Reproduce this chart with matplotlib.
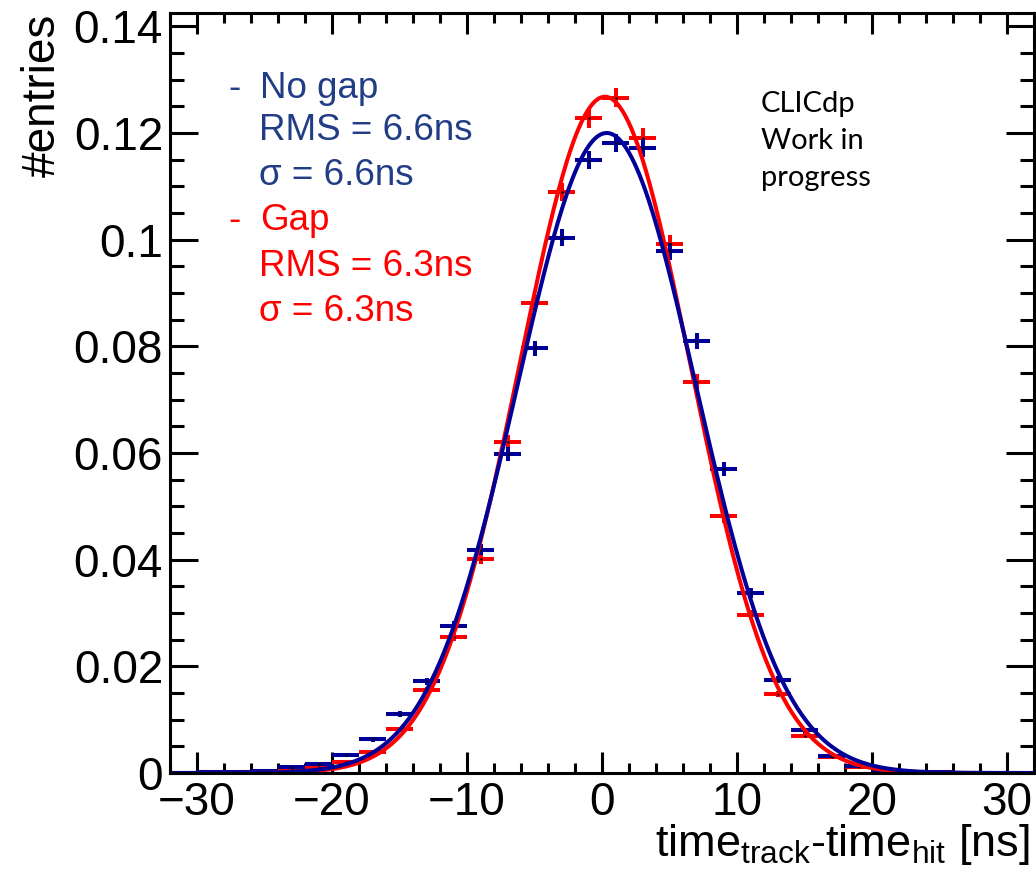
import matplotlib
matplotlib.use('Agg')
import matplotlib.pyplot as plt
from matplotlib.ticker import MultipleLocator
import numpy as np

plt.rcParams['font.family'] = ['Liberation Sans', 'DejaVu Sans']
plt.rcParams['mathtext.fontset'] = 'custom'
plt.rcParams['mathtext.rm'] = 'Liberation Sans'
plt.rcParams['mathtext.it'] = 'Liberation Sans:italic'

# bin centres (2 ns bins)
centres = [-29, -27, -25, -23, -21, -19, -17, -15, -13, -11, -9, -7, -5, -3, -1,
           1, 3, 5, 7, 9, 11, 13, 15, 17, 19, 21, 23, 25]
# no gap histogram
nogap = [0.0001, 0.0002, 0.0004, 0.0012, 0.0016, 0.0033, 0.0063, 0.0111, 0.0172,
         0.0276, 0.0419, 0.0598, 0.0796, 0.1004, 0.1150, 0.1181, 0.1172, 0.0978,
         0.0810, 0.0570, 0.0338, 0.0175, 0.0080, 0.0031, 0.0013, 0.0005, 0.0002, 0.0001]
nogap_err = [0.00005, 0.00008, 0.0001, 0.00018, 0.0002, 0.0003, 0.0004, 0.00054, 0.00068,
             0.00087, 0.00105, 0.00125, 0.00145, 0.0016, 0.0017, 0.0017, 0.0017, 0.00158,
             0.00145, 0.00122, 0.00095, 0.00068, 0.00046, 0.00028, 0.00018, 0.00012, 0.00008, 0.00005]
# gap histogram
gap = [0.0001, 0.0001, 0.0003, 0.0008, 0.0012, 0.0021, 0.0039, 0.0082, 0.0155,
       0.0255, 0.0402, 0.0621, 0.0881, 0.1090, 0.1228, 0.1266, 0.1191, 0.0992,
       0.0734, 0.0481, 0.0297, 0.0148, 0.0070, 0.0030, 0.0011, 0.0004, 0.0002, 0.0001]
gap_err = [0.00005, 0.00005, 0.00009, 0.00015, 0.00018, 0.00024, 0.00033, 0.00046, 0.00064,
           0.00082, 0.00105, 0.0013, 0.00155, 0.0017, 0.0018, 0.0018, 0.0018, 0.00163,
           0.0014, 0.00114, 0.0009, 0.00063, 0.00043, 0.00028, 0.00018, 0.0001, 0.00007, 0.00005]

# gaussian fit parameters: amplitude, mean, sigma
fit_nogap = (0.1200, 0.35, 6.6)
fit_gap = (0.1268, 0.22, 6.3)

navy = '#000099'
red = '#ff0000'

fig = plt.figure(figsize=(10.36, 8.88), dpi=100)
ax = fig.add_axes([170/1036, 1-773/888, 864/1036, 760/888])

# data points with error bars
ax.errorbar(centres, gap, xerr=1, yerr=gap_err, fmt='none', ecolor=red, elinewidth=2.9, capsize=0)
ax.errorbar(centres, nogap, xerr=1, yerr=nogap_err, fmt='none', ecolor=navy, elinewidth=2.9, capsize=0)
ax.plot(centres, gap, '.', color='k', ms=1.5)
ax.plot(centres, nogap, '.', color='k', ms=1.5)

# fitted gaussians
t = np.linspace(-32, 32, 600)
def gauss(x, p):
    return p[0]*np.exp(-0.5*((x-p[1])/p[2])**2)
ax.plot(t, gauss(t, fit_gap), color=red, lw=2.9)
ax.plot(t, gauss(t, fit_nogap), color=navy, lw=2.9)

ax.set_xlim(-32, 32)
ax.set_ylim(0, 0.1425)

# root style axes
for s in ax.spines.values():
    s.set_linewidth(2.2)
ax.xaxis.set_major_locator(MultipleLocator(10))
ax.xaxis.set_minor_locator(MultipleLocator(2))
ax.yaxis.set_major_locator(MultipleLocator(0.02))
ax.yaxis.set_minor_locator(MultipleLocator(0.005))
ax.tick_params(axis='both', which='both', direction='in', top=True, right=True, width=2.2)
ax.tick_params(axis='x', which='major', length=15, labelsize=33, pad=6)
ax.tick_params(axis='x', which='minor', length=7.5)
ax.tick_params(axis='y', which='major', length=20, labelsize=33, pad=5)
ax.tick_params(axis='y', which='minor', length=10)
ax.set_yticks([0, 0.02, 0.04, 0.06, 0.08, 0.1, 0.12, 0.14])
ax.set_yticklabels(['0', '0.02', '0.04', '0.06', '0.08', '0.1', '0.12', '0.14'])

# axis titles
fig.text(1030/1036, 1-856/888, r'time$_{\mathrm{track}}$-time$_{\mathrm{hit}}$ [ns]',
         ha='right', va='baseline', fontsize=32.5)
fig.text(43/1036, 1-14/888, '#entries', rotation=90, ha='center', va='top', fontsize=33)

# legend text
blue_txt = '#203d85'
def ftext(x, y, s, c, **kw):
    fig.text(x/1036, 1-y/888, s, color=c, fontsize=26.5, va='baseline', **kw)
ftext(228, 98, '-', blue_txt)
ftext(260, 98, 'No gap', blue_txt)
ftext(259, 140, 'RMS = 6.6ns', blue_txt)
ftext(259, 185, 'σ = 6.6ns', blue_txt)
ftext(228, 230, '-', red)
ftext(260, 230, 'Gap', red)
ftext(259, 276, 'RMS = 6.3ns', red)
ftext(259, 321, 'σ = 6.3ns', red)

# label
for i, s in enumerate(['CLICdp', 'Work in', 'progress']):
    fig.text(761/1036, 1-(112+37*i)/888, s, fontsize=21, family=['Lato', 'DejaVu Sans'],
             va='baseline', ha='left')

plt.savefig('out.png', dpi=100)
